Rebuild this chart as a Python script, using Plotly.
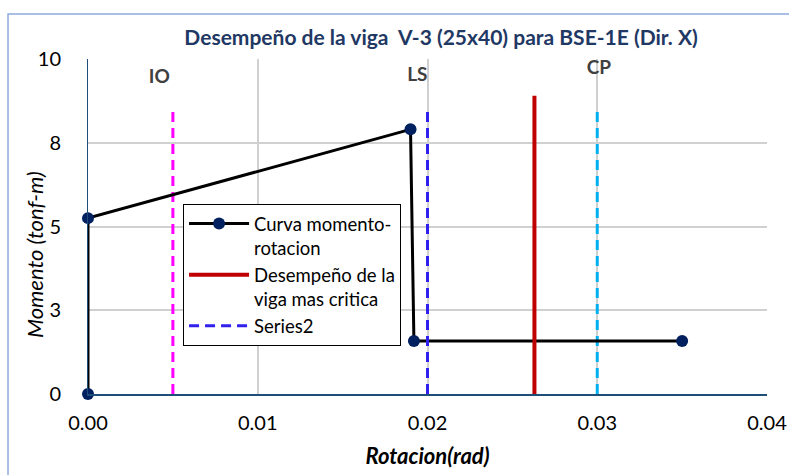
import plotly.graph_objects as go

# --- DATA ---
rot = [0.0, 0.0, 0.019, 0.0192, 0.035]
mom = [0.0, 5.25, 7.9, 1.58, 1.58]

critica_x = [0.0263, 0.0263]
critica_y = [0.0, 8.9]

io_x = [0.005, 0.005]
ls_x = [0.02, 0.02]
cp_x = [0.03, 0.03]
lim_y = [0.0, 8.6]

lbl_text = ['IO', 'LS', 'CP']
lbl_x = [0.0042, 0.0194, 0.0301]
lbl_y = [9.43, 9.49, 9.7]

ytick_vals = [0, 2.5, 5, 7.5, 10]
ytick_text = ['0', '3', '5', '8', '10']
xtick_vals = [0.0, 0.01, 0.02, 0.03, 0.04]
xtick_text = ['0.00', '0.01', '0.02', '0.03', '0.04']

FONT = 'Lato'

fig = go.Figure()

# limit lines (no legend for IO / CP)
fig.add_trace(go.Scatter(x=io_x, y=lim_y, mode='lines', showlegend=False,
    line=dict(color='#FF00FF', width=3, dash='10px,6px')))
fig.add_trace(go.Scatter(x=cp_x, y=lim_y, mode='lines', showlegend=False,
    line=dict(color='#00B0F0', width=3, dash='10px,6px')))

# curve
fig.add_trace(go.Scatter(x=rot, y=mom, mode='lines+markers',
    name='Curva momento-<br>rotacion', cliponaxis=False,
    line=dict(color='black', width=3),
    marker=dict(color='#002060', size=12)))

fig.add_trace(go.Scatter(x=critica_x, y=critica_y, mode='lines',
    name='Desempeño de la<br>viga mas critica',
    line=dict(color='#C00000', width=4)))

fig.add_trace(go.Scatter(x=ls_x, y=lim_y, mode='lines', name='Series2',
    line=dict(color='#3020F0', width=3, dash='10px,6px')))

# IO / LS / CP labels
fig.add_trace(go.Scatter(x=lbl_x, y=lbl_y, mode='text', text=lbl_text,
    showlegend=False, textfont=dict(family=FONT, size=19, color='#404040', weight='bold')))

fig.update_layout(
    width=789, height=475,
    margin=dict(l=88, r=22, t=59, b=81, autoexpand=False),
    paper_bgcolor='white', plot_bgcolor='white',
    font=dict(family=FONT, size=20, color='black'),
    title=dict(text='<b>Desempeño de la viga  V-3 (25x40) para BSE-1E (Dir. X)</b>',
               x=0.559, xref='container', xanchor='center', y=0.92, yref='container',
               yanchor='middle',
               font=dict(family=FONT, size=21, color='#1F3864')),
    legend=dict(x=0.14, y=0.567, xanchor='left', yanchor='top', valign='top',
                bordercolor='black', borderwidth=1, bgcolor='white',
                font=dict(family=FONT, size=18.5, color='black'),
                itemwidth=60, tracegroupgap=0),
    shapes=[dict(type='rect', xref='paper', yref='paper',
                 x0=-0.1178, x1=1.6, y0=-1.0, y1=1.134,
                 line=dict(color='#8FAADC', width=1.5), layer='below')],
    annotations=[dict(text='<i>Momento (tonf-m)</i>', xref='paper', yref='paper',
                      x=-0.078, y=0.415, textangle=-90, showarrow=False,
                      xanchor='center', yanchor='middle',
                      font=dict(family=FONT, size=22, color='black'))],
)

fig.update_xaxes(range=[0, 0.04], tickvals=xtick_vals, ticktext=xtick_text,
    showgrid=True, gridcolor='#D0D0D0', gridwidth=1.5, zeroline=False,
    showline=True, linecolor='#1F4E79', linewidth=2,
    ticks='outside', ticklen=10, tickcolor='rgba(0,0,0,0)', automargin=False,
    title=dict(text='<b><i>Rotacion(rad)</i></b>', font=dict(family=FONT, size=22), standoff=16))
fig.update_yaxes(range=[0, 10], tickvals=ytick_vals, ticktext=ytick_text,
    showgrid=True, gridcolor='#D0D0D0', gridwidth=1.5, zeroline=False,
    showline=True, linecolor='#1F4E79', linewidth=1,
    ticks='outside', ticklen=22, tickcolor='rgba(0,0,0,0)', automargin=False)

# drop the default body margin so the figure fills the window without scrollbars
fig.write_html('out.html', config={'displayModeBar': False},
               post_script="document.body.style.margin='0';document.body.style.overflow='hidden';")
